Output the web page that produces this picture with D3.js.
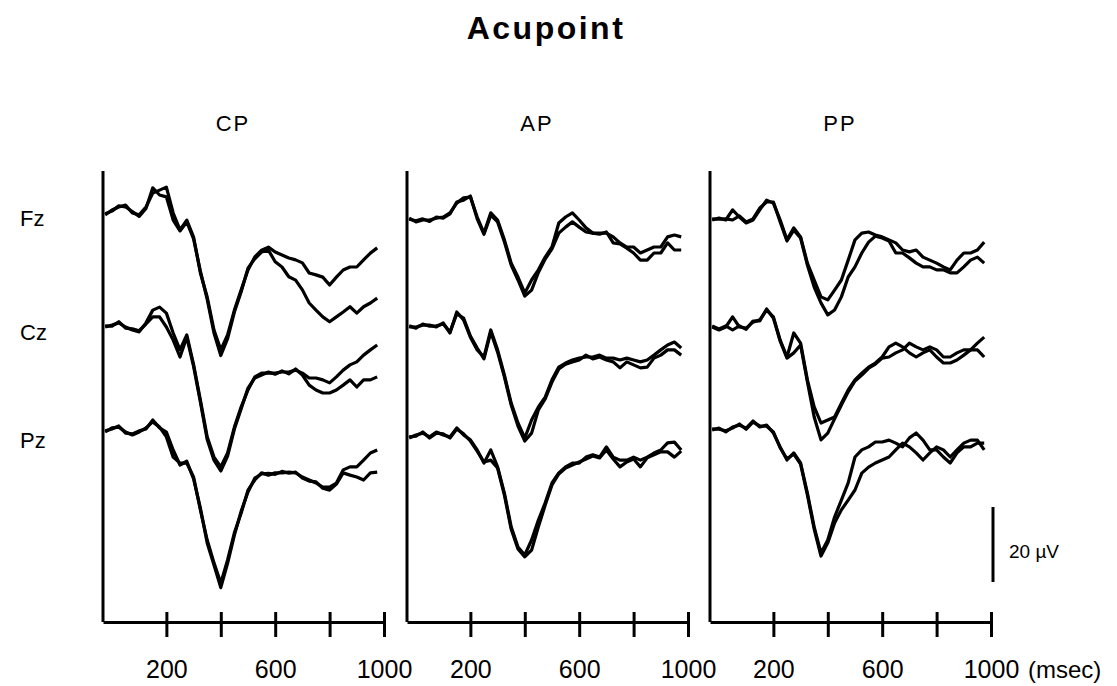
<!DOCTYPE html>
<html>
<head>
<meta charset="utf-8">
<script src="https://cdn.jsdelivr.net/npm/d3@7"></script>
<style>
  body { margin: 0; background: #fff; }
  text { font-family: "Liberation Sans", Arial, sans-serif; fill: #000; }
</style>
</head>
<body>
<div id="chart"></div>
<script>
// sample times (msec)
const times = [-25,0,25,50,75,100,125,150,175,200,225,250,275,300,325,350,375,400,425,450,475,500,525,550,575,600,625,650,675,700,725,750,775,800,825,850,875,900,925,950,975];

const panels = ["CP", "AP", "PP"];
const sites = ["Fz", "Cz", "Pz"];
const tickValues = [200, 400, 600, 800, 1000];
const tickLabels = ["200", "", "600", "", "1000"];

// amplitudes in microvolts, two overlaid averages per site
const cpFzA = [-0.5,0.8,1.6,2.1,0,-0.5,1.6,5.3,6.1,6.9,0,-4.5,-1.9,-6.4,-16,-22.4,-31.2,-36.5,-32.5,-25.9,-20.5,-15.2,-11.7,-9.9,-9.1,-10.4,-11.2,-12,-12.5,-13.3,-16,-16.5,-17.1,-19.2,-17.1,-15.2,-14.4,-14.4,-12.5,-10.7,-9.3];
const cpFzB = [-0.2,0.5,1.9,1.6,0.4,-0.9,1.2,6.7,4.8,4.3,-1.9,-4.8,-2.4,-6.9,-15.5,-23,-32,-38,-33.5,-26.4,-21,-14.7,-12.2,-10.4,-9.9,-13,-14.4,-17,-17.9,-20.5,-24,-25.9,-27.7,-29,-27.7,-26.4,-25,-26.7,-25,-24,-22.7];
const cpCzA = [0,0.5,1.1,0,-0.8,-1.3,1.1,4.5,5.3,3.7,-1.6,-6.1,-2.1,-10,-19.5,-29.3,-34.7,-37.3,-33.6,-26.7,-21.3,-16.8,-13.3,-12.3,-12.3,-12.3,-12,-12,-11.5,-12.3,-13.6,-13.6,-14.1,-14.9,-13.3,-11.5,-10.1,-9.3,-7.5,-6.1,-4.8];
const cpCzB = [0.3,0.2,1.4,-0.3,-0.5,-1,0.8,2.7,2.7,0,-3.5,-8,-2.7,-10.5,-20,-30,-35.5,-38.4,-34.4,-27.2,-21.8,-16.3,-13.6,-12.8,-12,-12.6,-11.7,-12.5,-11.2,-12.8,-15.5,-16.8,-17.6,-17.6,-16.8,-15.5,-14.1,-16,-14.1,-14.1,-13.3];
const cpPzA = [0,1.1,1.3,0,-0.8,0,1.1,2.7,1.3,-1.3,-6.7,-8.3,-8.3,-12,-20.8,-28.8,-34.9,-40.3,-34.1,-26.9,-21.6,-15.5,-12.8,-10.9,-11.5,-10.9,-10.9,-10.7,-10.9,-12,-12.8,-13.6,-14.7,-14.7,-13.6,-10.1,-9.3,-9.3,-7.5,-5.6,-4.8];
const cpPzB = [0.3,0.8,1.6,-0.3,-0.5,0.3,0.8,3.2,1.1,0,-4.8,-8.8,-7.8,-12.5,-20.3,-29.6,-35.5,-41.5,-35,-27.5,-21.1,-16,-12.3,-11.2,-11,-11.3,-10.5,-11,-10.7,-12.3,-13.1,-13.3,-15,-15.5,-13.9,-10.9,-11.5,-12,-12.8,-10.9,-10.7];

const apFzA = [0.5,-0.5,0,0,0.5,0.8,1.9,4.5,5.9,6.1,0.8,-3.5,1.9,0,-5.3,-11.5,-15.2,-19.5,-16,-13.3,-9.9,-7.2,-0.8,0.8,1.9,0,-2.1,-3.5,-3.5,-3.5,-4.5,-6.1,-7.2,-7.2,-8.8,-8,-7.2,-7.2,-4.5,-4,-4.5];
const apFzB = [0.2,-0.2,0.3,-0.4,0.8,0.5,1.6,4.8,5.3,6.4,0.3,-3.8,1.3,-0.5,-5.8,-12,-16,-20.3,-18.7,-14,-10.4,-7.7,-3.5,-1.9,-0.5,-1.9,-3.2,-3.5,-3.8,-3.2,-6.1,-6.4,-7.5,-8.8,-10.7,-10.7,-8.8,-8.8,-6.1,-8,-8];
const apCzA = [0,0,0.5,0.5,0,1.1,-1.6,4,1.9,-2.7,-6.1,-8,-0.8,-6.1,-12.8,-20.3,-25.6,-29.6,-24.8,-21.3,-18.7,-14.1,-10.7,-9.6,-8.8,-8.3,-8,-8,-7.5,-8.3,-8.3,-8.8,-8.3,-8.8,-9.3,-8.8,-7.5,-6.1,-4.8,-4,-5.6];
const apCzB = [0.3,-0.3,0.8,0.2,0.3,0.8,-1.3,3.5,2.4,-2.4,-5.6,-8.5,-1.3,-6.7,-13.3,-20.8,-26.4,-30.4,-28.3,-22.1,-19.2,-14.7,-11.2,-9.9,-9.3,-8.8,-7.5,-8.5,-8,-8.8,-9.3,-10.9,-9.3,-10.1,-10.9,-10.7,-8.3,-7.5,-6.1,-6.1,-7.5];
const apPzA = [0,0.8,1.3,0.3,1.6,0.8,0.3,2.7,0.8,-0.5,-3.2,-6.7,-3.2,-7.7,-14.7,-23.7,-29.1,-31.2,-27.2,-21.9,-17.3,-12,-9.3,-7.7,-6.7,-6.7,-5.1,-4.5,-5.1,-2.4,-5.1,-5.9,-5.9,-5.1,-5.9,-5.1,-4,-3.2,-1.3,-1.1,-3.2];
const apPzB = [0.3,0.5,1.6,0,1.3,1.1,0,2.4,1.1,-0.8,-3.5,-6.4,-5.9,-8,-15.2,-24.3,-29.6,-31.7,-29.9,-23.7,-17.9,-12.5,-9.6,-8,-7.2,-6.4,-5.6,-4.8,-5.3,-3.2,-5.6,-7.7,-6.4,-5.6,-7.7,-5.3,-4.5,-3.7,-3.7,-5.1,-3.5];

const ppFzA = [0,0.5,0,2.7,0.8,-0.8,0,2.7,5.3,4.5,0,-5.3,-2.1,-4.5,-11.5,-16,-20.5,-21.3,-18.7,-16,-10.7,-5.3,-3.5,-3.2,-4,-4.5,-5.3,-6.1,-8,-8.5,-8,-9.9,-10.7,-11.5,-12.5,-13.3,-10.7,-8.8,-8.8,-8,-5.9];
const ppFzB = [0.3,0.2,0.3,0,1.1,-0.5,0.3,3.2,4.8,4.8,-0.5,-5.6,-2.7,-4.8,-12,-17.9,-22.1,-25.3,-24,-20.5,-15.2,-12.5,-8.8,-5.9,-4.3,-4.8,-5.6,-8.8,-8.8,-10.1,-11.5,-12.5,-12.5,-13.3,-13.3,-14.1,-14.1,-12.5,-10.7,-9.9,-11.5];
const ppCzA = [0,-0.8,0,2.7,0,-0.3,1.3,1.9,4.5,2.7,-3.5,-8,-1.6,-4.3,-14.1,-21.3,-25.6,-24.8,-24,-20.3,-16.8,-14.1,-12.3,-10.7,-9.6,-8,-5.3,-4.3,-5.3,-6.9,-8,-6.9,-6.1,-8,-9.6,-9.6,-8.8,-7.5,-6.1,-4.3,-2.7];
const ppCzB = [0.3,-0.5,0.3,-0.8,0.3,-0.6,1.6,1.6,4.8,2.4,-3.8,-8.3,-6.9,-4.8,-14.6,-24,-30.1,-28.3,-24.5,-20.8,-17.3,-14.4,-12.8,-11,-9.9,-8.3,-8,-6.9,-6.1,-4.3,-5.3,-6.1,-5.3,-6.1,-8,-8,-6.9,-6.1,-6.1,-6.1,-8];
const ppPzA = [0,0.5,-0.5,0.8,1.3,0.5,2.4,0.8,1.3,-0.8,-4.5,-8,-6.1,-8.8,-16.8,-25.9,-32.8,-29.3,-23.2,-18.7,-14.1,-7.2,-5.3,-4.5,-3.2,-3.2,-2.7,-3.5,-4.5,-2.1,-0.8,-2.7,-5.3,-5.3,-7.2,-8.8,-6.1,-4.5,-4.5,-3.5,-3.5];
const ppPzB = [0.3,0.2,-0.2,0.5,1.6,0.2,2.1,1.1,1,-0.5,-4.8,-7.7,-6.4,-9.1,-17.3,-26.4,-33.6,-30.1,-24.8,-21.3,-18.7,-16,-11.5,-9.9,-8.8,-8,-7.2,-5.3,-3.5,-4.5,-6.1,-8,-6.1,-4.5,-5.3,-7.2,-5.3,-3.5,-2.7,-2.7,-5.3];

const traces = {
  CP: [[cpFzA, cpFzB], [cpCzA, cpCzB], [cpPzA, cpPzB]],
  AP: [[apFzA, apFzB], [apCzA, apCzB], [apPzA, apPzB]],
  PP: [[ppFzA, ppFzB], [ppCzA, ppCzB], [ppPzA, ppPzB]]
};

const width = 1117, height = 686;
const panelLeft = [103, 407, 710];
const rowBase = [[213, 327, 432], [220, 327, 438], [220, 327, 430]];
const siteLabelY = [226, 340, 448];
const axisY = 622, axisTop = 171;

const svg = d3.select("#chart")
  .append("svg")
  .attr("width", width)
  .attr("height", height);

const x = d3.scaleLinear().domain([-33, 1000]).range([0, 281]);
const y = d3.scaleLinear().domain([0, 20]).range([0, -75]);

const line = d3.line()
  .x((d, i) => x(times[i]))
  .y(d => y(d));

svg.append("text")
  .attr("x", 546)
  .attr("y", 39)
  .attr("text-anchor", "middle")
  .attr("font-size", 32)
  .attr("font-weight", "bold")
  .attr("letter-spacing", 2.5)
  .text("Acupoint");

svg.append("g")
  .selectAll("text")
  .data(sites)
  .join("text")
  .attr("x", 20)
  .attr("y", (d, i) => siteLabelY[i])
  .attr("font-size", 22)
  .text(d => d);

panels.forEach((name, p) => {
  const g = svg.append("g").attr("transform", `translate(${panelLeft[p]},0)`);

  g.append("text")
    .attr("x", 130)
    .attr("y", 131)
    .attr("text-anchor", "middle")
    .attr("font-size", 22)
    .attr("letter-spacing", 2)
    .text(name);

  g.append("line")
    .attr("x1", 0).attr("x2", 0)
    .attr("y1", axisTop).attr("y2", axisY)
    .attr("stroke", "#000")
    .attr("stroke-width", 3);

  const ax = g.append("g")
    .attr("transform", `translate(0,${axisY})`)
    .call(d3.axisBottom(x)
      .tickValues(tickValues)
      .tickSize(15)
      .tickSizeOuter(0)
      .tickFormat((d, i) => tickLabels[i]));
  ax.select(".domain").attr("stroke-width", 3);
  ax.selectAll(".tick line").attr("y1", -10).attr("stroke-width", 3);
  ax.selectAll(".tick text")
    .attr("y", 56)
    .attr("dy", 0)
    .attr("font-size", 25)
    .attr("font-family", "Liberation Sans, Arial, sans-serif");

  traces[name].forEach((pair, r) => {
    g.append("g")
      .attr("transform", `translate(0,${rowBase[p][r]})`)
      .selectAll("path")
      .data(pair)
      .join("path")
      .attr("d", line)
      .attr("fill", "none")
      .attr("stroke", "#000")
      .attr("stroke-width", 3.2)
      .attr("stroke-linejoin", "round");
  });
});

svg.append("text")
  .attr("x", 1028)
  .attr("y", axisY + 56)
  .attr("font-size", 24)
  .text("(msec)");

// 20 uV calibration bar
const bar = svg.append("g").attr("transform", "translate(993,582)");
bar.append("line")
  .attr("x1", 0).attr("x2", 0)
  .attr("y1", y(0)).attr("y2", y(20))
  .attr("stroke", "#000")
  .attr("stroke-width", 3);
bar.append("text")
  .attr("x", 16)
  .attr("y", -24)
  .attr("font-size", 19)
  .text("20 \u00b5V");
</script>
</body>
</html>
